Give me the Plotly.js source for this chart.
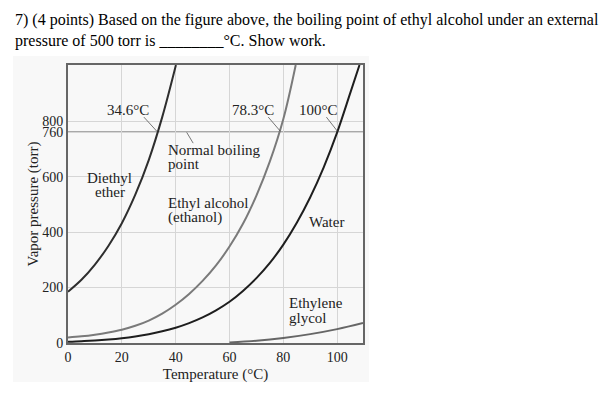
<!DOCTYPE html>
<html>
<head>
<meta charset="utf-8">
<script src="https://cdn.plot.ly/plotly-3.0.1.min.js"></script>
<style>html,body{margin:0;padding:0;background:#fff;}#chart{width:599px;height:399px;}</style>
</head>
<body>
<div id="chart"></div>
<script>
// ---- data ----
const etherT   = [0, 5, 10, 15, 20, 25, 30, 35, 40.1];
const etherP   = [185, 228, 283, 350, 432, 535, 660, 815, 1003];
const ethanolT = [0, 5, 10, 15, 20, 25, 30, 35, 40, 45, 50, 55, 60, 65, 70, 75, 80, 84.6];
const ethanolP = [20, 24, 30, 38, 48, 62, 81, 106, 138, 177, 224, 280, 348, 430, 532, 655, 808, 1003];
const waterT   = [0, 5, 10, 15, 20, 25, 30, 35, 40, 45, 50, 55, 60, 65, 70, 75, 80, 85, 90, 95, 100, 105, 108.3];
const waterP   = [4.6, 6.5, 9.2, 12.8, 17.5, 23.8, 31.8, 42.2, 55.3, 71.9, 92.5, 118, 149, 188, 234, 289, 355, 434, 526, 634, 760, 906, 1003];
const glycolT  = [60, 70, 80, 90, 100, 109.6];
const glycolP  = [2, 8, 18, 32, 50, 72];
const normalBP = 760;
const xTicks = [0, 20, 40, 60, 80, 100];
const yTicks = [0, 200, 400, 600, 760, 800];
const bpLabels = ["34.6°C", "78.3°C", "100°C"];

const serif = "'Liberation Serif', 'Times New Roman', 'DejaVu Serif', serif";
const xMax = 109.6, yMax = 1003;

function curve(x, y, color, name) {
  return {x: x, y: y, type: 'scatter', mode: 'lines', name: name,
          line: {color: color, width: 2, shape: 'spline', smoothing: 1},
          hoverinfo: 'skip', showlegend: false};
}
const traces = [
  curve(etherT, etherP, '#2e2e2e', 'Diethyl ether'),
  curve(ethanolT, ethanolP, '#7a7a7a', 'Ethyl alcohol'),
  curve(waterT, waterP, '#1e1e1e', 'Water'),
  curve(glycolT, glycolP, '#666666', 'Ethylene glycol')
];

function lab(text, x, y, xanchor) {
  return {text: text, x: x, y: y, xref: 'x', yref: 'y', xanchor: xanchor || 'center',
          yanchor: 'middle', showarrow: false, font: {family: serif, size: 15, color: '#222'}};
}
const annotations = [
  {text: '7) (4 points) Based on the figure above, the boiling point of ethyl alcohol under an external',
   x: -0.1864, y: 1.162, xref: 'paper', yref: 'paper', xanchor: 'left', yanchor: 'middle',
   showarrow: false, font: {family: serif, size: 16, color: '#000'}},
  {text: 'pressure of 500 torr is ________°C. Show work.',
   x: -0.1864, y: 1.086, xref: 'paper', yref: 'paper', xanchor: 'left', yanchor: 'middle',
   showarrow: false, font: {family: serif, size: 16, color: '#000'}},
  lab(bpLabels[0], 22.2, 840),
  lab(bpLabels[1], 68.8, 840),
  lab(bpLabels[2], 93.0, 840),
  lab('Normal boiling', 36.35, 697, 'left'),
  lab('point', 36.35, 645, 'left'),
  lab('Ethyl alcohol', 36.35, 506, 'left'),
  lab('(ethanol)', 36.35, 452, 'left'),
  lab('Water', 88.9, 437, 'left'),
  lab('Diethyl', 15.5, 596),
  lab('ether', 15.5, 544),
  lab('Ethylene', 81.5, 146, 'left'),
  lab('glycol', 81.5, 90, 'left')
];

function seg(x0, y0, x1, y1) {
  return {type: 'line', xref: 'x', yref: 'y', x0: x0, y0: y0, x1: x1, y1: y1,
          line: {color: '#555', width: 0.8}};
}
const shapes = [
  {type: 'rect', xref: 'paper', yref: 'paper', x0: -0.1864, x1: 1.0203, y0: -0.1403, y1: 1.0324,
   fillcolor: '#f8f8f8', line: {width: 0}, layer: 'below'},
  {type: 'line', xref: 'x', yref: 'y', x0: 0, x1: xMax, y0: normalBP, y1: normalBP,
   line: {color: '#5a5a5a', width: 1.5}, layer: 'below'},
  seg(28.2, 815, 33.0, 764),
  seg(74.4, 815, 78.9, 764),
  seg(96.0, 815, 100.1, 764),
  seg(44.1, 760, 46.5, 721)
];

const layout = {
  width: 599, height: 399,
  margin: {l: 68, r: 236, t: 65, b: 56, pad: 0},
  paper_bgcolor: '#ffffff', plot_bgcolor: '#ffffff',
  font: {family: serif, color: '#222'},
  xaxis: {range: [0, xMax], tickvals: xTicks, ticktext: xTicks.map(String),
          showgrid: true, gridcolor: '#d6d6d6', gridwidth: 1, zeroline: false,
          showline: true, mirror: true, linecolor: '#666', linewidth: 2, ticks: '',
          tickfont: {family: serif, size: 14, color: '#222'},
          title: {text: 'Temperature (°C)', font: {family: serif, size: 15, color: '#222'}, standoff: 5}},
  yaxis: {range: [0, yMax], tickvals: yTicks, ticktext: yTicks.map(String),
          showgrid: true, gridcolor: '#d6d6d6', gridwidth: 1, zeroline: false,
          showline: true, mirror: true, linecolor: '#666', linewidth: 2, ticks: '',
          tickfont: {family: serif, size: 14, color: '#222'},
          title: {text: 'Vapor pressure (torr)', font: {family: serif, size: 15, color: '#222'}, standoff: 0}},
  annotations: annotations,
  shapes: shapes,
  showlegend: false
};

Plotly.newPlot('chart', traces, layout, {staticPlot: true, displayModeBar: false});
</script>
</body>
</html>
